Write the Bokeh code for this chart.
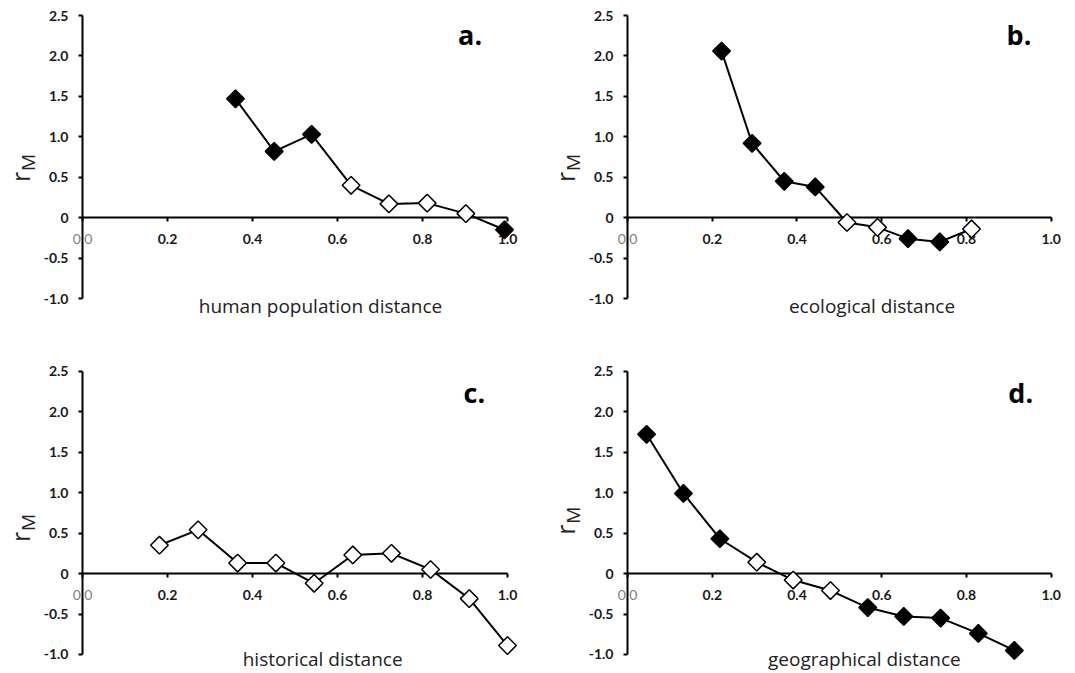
import math
from bokeh.plotting import figure
from bokeh.models import Range1d, FixedTicker, Label, ColumnDataSource, LinearAxis
from bokeh.layouts import column, row
from bokeh.embed import file_html
from bokeh.resources import INLINE

# ---------------- data ----------------
x_ticks = [0.0, 0.2, 0.4, 0.6, 0.8, 1.0]
x_tick_labels = ["", "0.2", "0.4", "0.6", "0.8", "1.0"]
y_ticks = [-1.0, -0.5, 0.0, 0.5, 1.0, 1.5, 2.0, 2.5]
y_tick_labels = ["-1.0", "-0.5", "0", "0.5", "1.0", "1.5", "2.0", "2.5"]

panel_letters = ["a.", "b.", "c.", "d."]
x_titles = ["human population distance", "ecological distance",
            "historical distance", "geographical distance"]

a_x = [0.36, 0.451, 0.539, 0.632, 0.721, 0.811, 0.902, 0.993]
a_y = [1.47, 0.82, 1.03, 0.40, 0.17, 0.18, 0.05, -0.15]
a_sig = [True, True, True, False, False, False, False, True]

b_x = [0.222, 0.294, 0.370, 0.443, 0.518, 0.590, 0.662, 0.737, 0.812]
b_y = [2.06, 0.92, 0.45, 0.38, -0.06, -0.12, -0.26, -0.30, -0.14]
b_sig = [True, True, True, True, False, False, True, True, False]

c_x = [0.181, 0.272, 0.365, 0.455, 0.545, 0.636, 0.727, 0.819, 0.910, 1.0]
c_y = [0.35, 0.54, 0.13, 0.13, -0.12, 0.23, 0.25, 0.05, -0.31, -0.89]
c_sig = [False] * 10

d_x = [0.045, 0.132, 0.218, 0.305, 0.391, 0.479, 0.567, 0.652, 0.739, 0.828, 0.913]
d_y = [1.72, 0.99, 0.43, 0.14, -0.08, -0.21, -0.42, -0.53, -0.55, -0.74, -0.95]
d_sig = [True, True, True, False, False, False, True, True, True, True, True]

TICK_FONT = "Lato"
TEXT_FONT = "Open Sans"


def make_panel(xs, ys, sig, letter, title, width, height,
               axis_px, px_per_x, top_px, px_per_y,
               title_xy, letter_xy, r_bottom):
    # ranges chosen so that x=0 sits at axis_px and y=2.5 at top_px in the canvas
    x_start = -axis_px / px_per_x
    x_end = x_start + width / px_per_x
    y_end = 2.5 + top_px / px_per_y
    y_start = y_end - height / px_per_y
    p = figure(width=width, height=height,
               x_range=Range1d(x_start, x_end), y_range=Range1d(y_start, y_end),
               output_backend="svg", toolbar_location=None,
               x_axis_location=None, y_axis_location=None,
               min_border_left=0, min_border_right=0,
               min_border_top=0, min_border_bottom=0)
    p.xgrid.visible = False
    p.ygrid.visible = False
    p.outline_line_color = None
    p.background_fill_color = "white"
    p.border_fill_color = "white"

    yaxis = LinearAxis(ticker=FixedTicker(ticks=y_ticks), bounds=(-1.0, 2.5),
                       fixed_location=0,
                       major_label_overrides=dict(zip(y_ticks, y_tick_labels)))
    xaxis = LinearAxis(ticker=FixedTicker(ticks=x_ticks), bounds=(0.0, 1.0),
                       fixed_location=0,
                       major_label_overrides=dict(zip(x_ticks, x_tick_labels)))
    for ax in (xaxis, yaxis):
        ax.axis_line_width = 2
        ax.axis_line_color = "black"
        ax.major_tick_line_width = 2
        ax.major_tick_line_color = "black"
        ax.major_tick_in = 0
        ax.major_tick_out = 4
        ax.minor_tick_line_color = None
        ax.major_label_text_font = TICK_FONT
        ax.major_label_text_font_style = "bold"
        ax.major_label_text_font_size = "14px"
        ax.major_label_text_color = "#1a1a1a"
    yaxis.major_label_standoff = 10
    xaxis.major_label_standoff = 12
    p.add_layout(yaxis, "left")
    p.add_layout(xaxis, "below")

    # grey "0.0" label sitting underneath the y axis line
    p.add_layout(Label(x=0, y=0, y_offset=-16, text="0.0", text_align="center",
                       text_baseline="top", text_font=TICK_FONT,
                       text_font_size="14px", text_color="#808080",
                       level="underlay"))

    src = ColumnDataSource(dict(x=xs, y=ys,
                                fill=["black" if s else "white" for s in sig]))
    ln = p.line("x", "y", source=src, line_color="black", line_width=2)
    ln.level = "overlay"
    sc = p.scatter("x", "y", source=src, marker="square", angle=math.pi / 4,
                   size=12.5, fill_color="fill", line_color="black",
                   line_width=1.5)
    sc.level = "overlay"

    p.add_layout(Label(x=letter_xy[0], y=letter_xy[1], text=letter,
                       text_align="center", text_baseline="middle",
                       text_font=TEXT_FONT, text_font_style="bold",
                       text_font_size="27px", text_color="black"))
    p.add_layout(Label(x=title_xy[0], y=title_xy[1],
                       text=title, text_align="center",
                       text_baseline="alphabetic", text_font=TEXT_FONT,
                       text_font_size="19px", text_color="#222222"))
    # r_M axis label (rotated, reads bottom to top)
    p.add_layout(Label(x=0, x_offset=-63, y=r_bottom, text="r",
                       angle=math.pi / 2, text_align="left",
                       text_baseline="alphabetic", text_font=TEXT_FONT,
                       text_font_size="25px", text_color="#222222"))
    p.add_layout(Label(x=0, x_offset=-55, y=r_bottom + 11 / px_per_y, text="M",
                       angle=math.pi / 2, text_align="left",
                       text_baseline="alphabetic", text_font=TEXT_FONT,
                       text_font_size="19px", text_color="#222222"))
    return p


pa = make_panel(a_x, a_y, a_sig, panel_letters[0], x_titles[0],
                548, 348, 82, 425.0, 15, 80.86,
                (0.56, -1.088), (0.912, 2.26), 0.44)
pb = make_panel(b_x, b_y, b_sig, panel_letters[1], x_titles[1],
                527, 348, 79, 423.7, 15, 80.86,
                (0.577, -1.088), (0.924, 2.26), 0.44)
pc = make_panel(c_x, c_y, c_sig, panel_letters[2], x_titles[2],
                548, 324, 82, 425.0, 22.7, 80.94,
                (0.565, -1.05), (0.922, 2.24), 0.39)
pd = make_panel(d_x, d_y, d_sig, panel_letters[3], x_titles[3],
                527, 324, 79, 423.7, 22.7, 80.94,
                (0.559, -1.05), (0.928, 2.24), 0.48)

layout = column(row(pa, pb), row(pc, pd))
open("out.html", "w").write(file_html(layout, INLINE))
